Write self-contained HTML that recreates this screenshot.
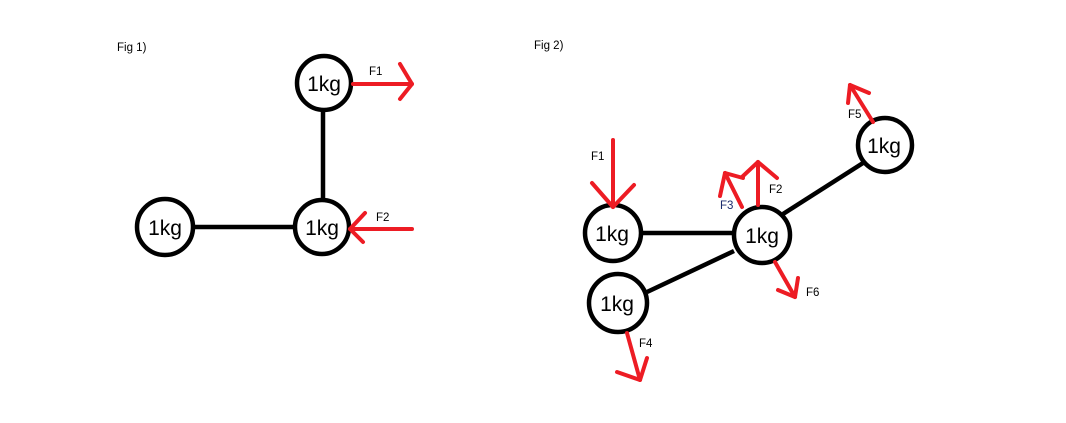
<!DOCTYPE html>
<html><head><style>body{margin:0;background:#fff}svg{display:block}</style></head>
<body>
<svg width="1066" height="423" viewBox="0 0 1066 423" xmlns="http://www.w3.org/2000/svg" font-family="Liberation Sans, sans-serif">
<rect width="1066" height="423" fill="#fff"/>
<g font-size="11.5" fill="#000">
<text x="117" y="51">Fig 1)</text>
<text x="534" y="49">Fig 2)</text>
</g>
<g stroke="#000" stroke-width="4.5" fill="none">
<line x1="323" y1="111" x2="323" y2="199"/>
<line x1="193" y1="227" x2="294" y2="227"/>
<circle cx="324" cy="83" r="27"/>
<circle cx="322" cy="227" r="27"/>
<circle cx="165" cy="227" r="28"/>
<line x1="641" y1="233" x2="734" y2="233"/>
<line x1="783" y1="214" x2="863" y2="163"/>
<line x1="734" y1="251" x2="647" y2="292"/>
<circle cx="613" cy="233" r="28"/>
<circle cx="762" cy="235" r="28"/>
<circle cx="885" cy="145" r="27"/>
<circle cx="618" cy="303" r="29"/>
</g>
<g font-size="21" text-anchor="middle" fill="#000">
<text x="324" y="91">1kg</text>
<text x="322" y="235">1kg</text>
<text x="165" y="235">1kg</text>
<text x="612" y="241">1kg</text>
<text x="762" y="243">1kg</text>
<text x="884" y="153">1kg</text>
<text x="617" y="311">1kg</text>
</g>
<g stroke="#ed1c24" stroke-width="4" fill="none" stroke-linecap="round" stroke-linejoin="round">
<line x1="353" y1="84" x2="412" y2="84"/><polyline points="400,64 412,84 400,99"/>
<line x1="412" y1="229" x2="350" y2="229"/><polyline points="365,213 350,229 363,242"/>
<line x1="613" y1="140" x2="613" y2="207"/><polyline points="592,183 613,207 634,185"/>
<line x1="758" y1="205" x2="758" y2="162"/><polyline points="742,177 758,162 777,178"/>
<line x1="742" y1="207" x2="725" y2="173"/><polyline points="720,196 725,173 743,178"/>
<line x1="873" y1="122" x2="850" y2="85"/><polyline points="848,103 850,85 869,93"/>
<line x1="775" y1="262" x2="795" y2="297"/><polyline points="778,290 795,297 798,278"/>
<line x1="627" y1="333" x2="640" y2="380"/><polyline points="617,372 640,380 647,358"/>
</g>
<g font-size="11.5" fill="#000">
<text x="369" y="75">F1</text>
<text x="376" y="221">F2</text>
<text x="591" y="160">F1</text>
<text x="769" y="193">F2</text>
<text x="720" y="209" fill="#1a2a6c">F3</text>
<text x="848" y="118">F5</text>
<text x="806" y="296">F6</text>
<text x="639" y="347">F4</text>
</g>
</svg>
</body></html>
